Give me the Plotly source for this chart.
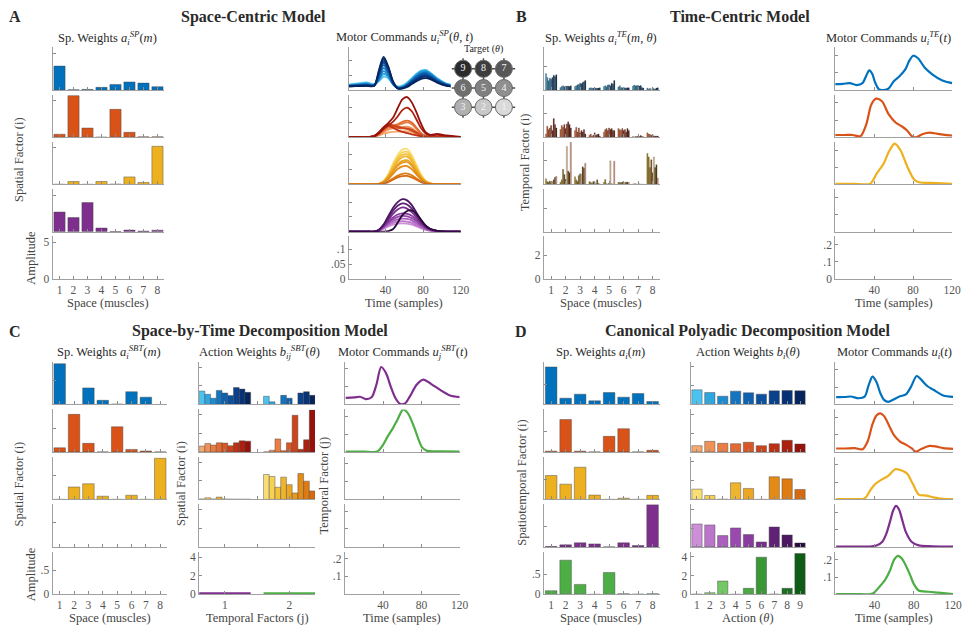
import plotly.graph_objects as go

FONT = "Liberation Serif"
W, H = 970, 632

# ---------------------------------------------------------------- data
MUSCLES = [1, 2, 3, 4, 5, 6, 7, 8]
ACTIONS = [1, 2, 3, 4, 5, 6, 7, 8, 9]
TEMPORAL = [1, 2]

# A: space-centric spatial weights (rows = spatial factors)
SP_WEIGHTS = [
    [3.26, 0.02, 0.08, 0.36, 0.76, 1.10, 0.94, 0.45],
    [0.40, 5.67, 1.25, 0.00, 3.80, 0.67, 0.05, 0.05],
    [0.03, 0.40, 0.02, 0.40, 0.05, 1.03, 0.27, 5.20],
    [2.68, 1.92, 3.97, 0.49, 0.02, 0.22, 0.08, 0.20],
]

# A: target-dependent motor commands, sampled at SP_T
SP_T = [1, 10, 20, 28, 33, 38, 43, 48, 53, 58, 63, 68, 73, 78, 83, 88, 95, 105, 120]
SP_MOTOR_BLUE = [
    [0.018, 0.022, 0.026, 0.020, 0.030, 0.045, 0.040, 0.020, 0.012, 0.015, 0.025, 0.040, 0.055, 0.066, 0.068, 0.058, 0.040, 0.022, 0.014],
    [0.016, 0.019, 0.022, 0.018, 0.032, 0.055, 0.045, 0.020, 0.010, 0.012, 0.022, 0.036, 0.052, 0.063, 0.065, 0.056, 0.038, 0.020, 0.013],
    [0.015, 0.018, 0.020, 0.017, 0.035, 0.064, 0.050, 0.020, 0.008, 0.010, 0.020, 0.034, 0.049, 0.060, 0.062, 0.054, 0.036, 0.019, 0.012],
    [0.014, 0.017, 0.019, 0.016, 0.040, 0.074, 0.056, 0.020, 0.007, 0.009, 0.018, 0.032, 0.046, 0.056, 0.059, 0.051, 0.034, 0.018, 0.012],
    [0.014, 0.016, 0.018, 0.016, 0.045, 0.084, 0.062, 0.022, 0.006, 0.008, 0.016, 0.030, 0.043, 0.053, 0.056, 0.048, 0.032, 0.017, 0.011],
    [0.013, 0.015, 0.017, 0.015, 0.050, 0.092, 0.068, 0.024, 0.005, 0.007, 0.015, 0.028, 0.040, 0.050, 0.052, 0.045, 0.030, 0.016, 0.011],
    [0.013, 0.015, 0.016, 0.015, 0.055, 0.098, 0.072, 0.026, 0.005, 0.006, 0.014, 0.026, 0.037, 0.046, 0.049, 0.043, 0.029, 0.016, 0.010],
    [0.012, 0.014, 0.015, 0.014, 0.060, 0.105, 0.076, 0.028, 0.006, 0.006, 0.012, 0.024, 0.034, 0.043, 0.045, 0.040, 0.027, 0.015, 0.010],
    [0.012, 0.013, 0.014, 0.014, 0.066, 0.112, 0.080, 0.030, 0.007, 0.005, 0.010, 0.020, 0.030, 0.038, 0.040, 0.036, 0.025, 0.014, 0.010],
]
SP_MOTOR_RED = [
    [0, 0, 0, 0.002, 0.006, 0.012, 0.016, 0.018, 0.019, 0.020, 0.020, 0.017, 0.010, 0.004, 0.001, 0, 0, 0, 0],
    [0, 0, 0, 0.002, 0.008, 0.018, 0.026, 0.030, 0.032, 0.034, 0.036, 0.030, 0.018, 0.007, 0.002, 0.001, 0, 0, 0],
    [0, 0, 0, 0.003, 0.010, 0.022, 0.032, 0.036, 0.040, 0.046, 0.050, 0.044, 0.028, 0.012, 0.004, 0.002, 0.001, 0, 0],
    [0, 0, 0, 0.003, 0.012, 0.026, 0.036, 0.040, 0.044, 0.052, 0.056, 0.050, 0.032, 0.014, 0.005, 0.002, 0.001, 0, 0],
    [0, 0, 0, 0.004, 0.015, 0.032, 0.040, 0.036, 0.032, 0.030, 0.030, 0.026, 0.018, 0.008, 0.002, 0, 0, 0, 0],
    [0, 0, 0, 0.004, 0.016, 0.034, 0.044, 0.040, 0.036, 0.032, 0.028, 0.022, 0.014, 0.006, 0.002, 0, 0, 0, 0],
    [0, 0, 0, 0.004, 0.016, 0.032, 0.040, 0.032, 0.024, 0.018, 0.014, 0.010, 0.006, 0.003, 0.001, 0, 0, 0, 0],
    [0, 0, 0, 0.003, 0.012, 0.028, 0.040, 0.052, 0.070, 0.092, 0.100, 0.088, 0.060, 0.030, 0.012, 0.006, 0.008, 0.004, 0],
    [0, 0, 0, 0.004, 0.015, 0.032, 0.048, 0.066, 0.098, 0.128, 0.136, 0.118, 0.084, 0.045, 0.016, 0.008, 0.011, 0.006, 0.001],
]
SP_MOTOR_YELLOW = [
    [0, 0, 0, 0, 0.002, 0.012, 0.035, 0.070, 0.100, 0.118, 0.120, 0.100, 0.065, 0.032, 0.012, 0.004, 0.001, 0, 0],
    [0, 0, 0, 0, 0.002, 0.011, 0.032, 0.064, 0.092, 0.108, 0.110, 0.092, 0.060, 0.030, 0.011, 0.004, 0.001, 0, 0],
    [0, 0, 0, 0, 0.002, 0.010, 0.030, 0.060, 0.086, 0.100, 0.102, 0.086, 0.056, 0.028, 0.010, 0.003, 0.001, 0, 0],
    [0, 0, 0, 0, 0.002, 0.009, 0.027, 0.054, 0.078, 0.092, 0.094, 0.079, 0.051, 0.025, 0.009, 0.003, 0.001, 0, 0],
    [0, 0, 0, 0, 0.002, 0.008, 0.024, 0.048, 0.068, 0.080, 0.082, 0.069, 0.045, 0.022, 0.008, 0.003, 0, 0, 0],
    [0, 0, 0, 0, 0.001, 0.007, 0.022, 0.044, 0.063, 0.074, 0.076, 0.064, 0.041, 0.020, 0.007, 0.002, 0, 0, 0],
    [0, 0, 0, 0, 0.001, 0.006, 0.018, 0.036, 0.052, 0.061, 0.062, 0.052, 0.034, 0.017, 0.006, 0.002, 0, 0, 0],
    [0, 0, 0, 0, 0.001, 0.004, 0.010, 0.020, 0.030, 0.036, 0.037, 0.031, 0.020, 0.010, 0.004, 0.001, 0, 0, 0],
    [0, 0, 0, 0, 0.001, 0.003, 0.008, 0.016, 0.024, 0.028, 0.029, 0.024, 0.016, 0.008, 0.003, 0.001, 0, 0, 0],
]
SP_MOTOR_PURPLE = [
    [0, 0, 0, 0, 0.003, 0.010, 0.018, 0.024, 0.027, 0.028, 0.027, 0.024, 0.018, 0.011, 0.006, 0.003, 0.001, 0, 0],
    [0, 0, 0, 0, 0.004, 0.012, 0.022, 0.030, 0.034, 0.036, 0.034, 0.030, 0.022, 0.014, 0.007, 0.003, 0.001, 0, 0],
    [0, 0, 0, 0, 0.004, 0.014, 0.026, 0.036, 0.042, 0.044, 0.043, 0.038, 0.028, 0.018, 0.009, 0.004, 0.001, 0, 0],
    [0, 0, 0, 0, 0.005, 0.016, 0.030, 0.042, 0.050, 0.053, 0.052, 0.046, 0.035, 0.022, 0.011, 0.005, 0.002, 0, 0],
    [0, 0, 0, 0, 0.005, 0.018, 0.034, 0.048, 0.058, 0.062, 0.060, 0.054, 0.041, 0.026, 0.013, 0.006, 0.002, 0, 0],
    [0, 0, 0, 0, 0.006, 0.020, 0.040, 0.060, 0.075, 0.082, 0.078, 0.066, 0.048, 0.030, 0.015, 0.007, 0.002, 0, 0],
    [0, 0, 0, 0, 0.006, 0.022, 0.046, 0.070, 0.088, 0.096, 0.092, 0.078, 0.056, 0.034, 0.017, 0.008, 0.003, 0, 0],
    [0, 0, 0, 0, 0.006, 0.024, 0.052, 0.080, 0.100, 0.110, 0.106, 0.090, 0.064, 0.038, 0.019, 0.009, 0.003, 0, 0],
    [0, 0, 0, 0, 0, 0, 0.002, 0.008, 0.030, 0.056, 0.070, 0.072, 0.060, 0.040, 0.020, 0.009, 0.003, 0, 0],
]

# B: time-centric spatial weights [factor][muscle][target]
TE_WEIGHTS = [
    [
        [1.39, 1.06, 0.78, 1.00, 0.92, 1.06, 1.25, 1.14, 1.30],
        [0.22, 0.30, 0.36, 0.28, 0.30, 0.33, 0.33, 0.30, 0.36],
        [0.30, 0.36, 0.44, 0.47, 0.58, 0.53, 0.64, 0.70, 0.80],
        [0.17, 0.19, 0.14, 0.17, 0.14, 0.17, 0.14, 0.17, 0.19],
        [0.30, 0.36, 0.28, 0.42, 0.44, 0.36, 0.58, 0.50, 0.80],
        [0.25, 0.36, 0.22, 0.19, 0.17, 0.19, 0.17, 0.19, 0.19],
        [0.33, 0.42, 0.36, 0.36, 0.39, 0.33, 0.39, 0.22, 0.17],
        [0.17, 0.06, 0.14, 0.00, 0.19, 0.11, 0.06, 0.17, 0.19],
    ],
    [
        [0.28, 0.93, 0.65, 0.79, 1.00, 0.56, 1.58, 1.07, 0.79],
        [0.65, 1.00, 0.85, 1.07, 0.73, 1.13, 1.30, 1.07, 0.79],
        [0.56, 0.85, 0.45, 0.79, 0.37, 0.56, 0.45, 0.65, 0.28],
        [0.17, 0.28, 0.08, 0.17, 0.37, 0.17, 0.23, 0.28, 0.08],
        [0.45, 0.65, 0.73, 0.56, 0.79, 0.65, 0.73, 0.56, 0.56],
        [0.73, 0.65, 0.56, 0.73, 0.56, 0.65, 0.45, 0.73, 0.56],
        [0.06, 0.00, 0.06, 0.06, 0.11, 0.06, 0.14, 0.06, 0.03],
        [0.37, 0.28, 0.23, 0.17, 0.23, 0.11, 0.11, 0.08, 0.11],
    ],
    [
        [0.48, 0.24, 0.18, 0.30, 0.15, 0.24, 0.39, 0.60, 0.69],
        [0.18, 0.39, 1.28, 0.84, 0.45, 3.22, 1.13, 1.00, 3.73],
        [0.66, 0.39, 0.24, 0.75, 0.90, 0.84, 1.49, 1.37, 1.79],
        [0.24, 0.18, 0.09, 0.24, 0.18, 0.06, 0.39, 0.09, 0.03],
        [0.18, 0.42, 0.06, 0.03, 0.12, 2.00, 0.06, 0.03, 1.97],
        [0.18, 0.18, 0.15, 0.21, 0.18, 0.15, 0.21, 0.18, 0.18],
        [0.03, 0.06, 0.06, 0.03, 0.03, 0.06, 0.03, 0.00, 0.03],
        [2.63, 2.33, 1.43, 2.09, 0.99, 2.33, 1.43, 1.67, 0.54],
    ],
]

# B: time-centric motor commands
TE_T_BLUE = [0, 8, 15, 22, 28, 32, 35, 38, 41, 45, 50, 55, 60, 66, 72, 76, 80, 85, 92, 100, 110, 120]
TE_BLUE = [0.034, 0.036, 0.040, 0.029, 0.040, 0.085, 0.114, 0.095, 0.044, 0.003, 0.0, 0.010, 0.050, 0.080, 0.120, 0.170, 0.200, 0.185, 0.130, 0.090, 0.055, 0.040]
TE_T_RED = [0, 10, 18, 26, 32, 37, 42, 48, 55, 62, 69, 74, 79, 83, 90, 97, 105, 120]
TE_RED = [0.013, 0.013, 0.013, 0.006, 0.076, 0.190, 0.225, 0.210, 0.133, 0.086, 0.061, 0.038, 0.004, 0.0, 0.019, 0.027, 0.020, 0.010]
TE_T_YELLOW = [0, 20, 36, 43, 50, 55, 61, 67, 74, 81, 86, 98, 110, 120]
TE_YELLOW = [0.004, 0.004, 0.004, 0.067, 0.124, 0.190, 0.238, 0.200, 0.105, 0.029, 0.013, 0.009, 0.006, 0.004]

# C: space-by-time decomposition
SBT_SPATIAL = [
    [0.853, 0.0, 0.347, 0.087, 0.010, 0.267, 0.153, 0.0],
    [0.087, 0.787, 0.180, 0.0, 0.527, 0.053, 0.020, 0.0],
    [0.0, 0.260, 0.327, 0.067, 0.0, 0.087, 0.0, 0.860],
]
SBT_ACTION = [  # [spatial factor][temporal factor][target]
    [[1.44, 1.09, 0.67, 1.51, 1.23, 0.95, 1.82, 1.65, 1.30],
     [0.88, 0.28, 0.00, 0.98, 0.67, 0.00, 1.23, 1.37, 0.98]],
    [[0.63, 0.91, 0.74, 0.98, 0.95, 0.67, 0.98, 1.19, 1.16],
     [0.00, 0.18, 1.40, 0.14, 0.98, 3.93, 0.28, 1.30, 4.49]],
    [[0.05, 0.18, 0.05, 0.25, 0.05, 0.03, 0.02, 0.02, 0.02],
     [2.67, 2.46, 1.30, 2.39, 1.58, 0.70, 2.77, 1.96, 0.91]],
]
SBT_T_PURPLE = [1, 10, 16, 22, 28, 33, 38, 43, 48, 53, 58, 63, 68, 75, 82, 90, 100, 110, 120]
SBT_PURPLE = [0.037, 0.040, 0.043, 0.030, 0.040, 0.110, 0.209, 0.175, 0.100, 0.035, 0.003, 0.006, 0.045, 0.110, 0.139, 0.115, 0.080, 0.050, 0.041]
SBT_T_GREEN = [1, 20, 34, 40, 45, 50, 55, 61, 66, 72, 77, 81, 86, 100, 120]
SBT_GREEN = [0.002, 0.002, 0.002, 0.040, 0.088, 0.130, 0.180, 0.237, 0.215, 0.144, 0.070, 0.024, 0.006, 0.004, 0.002]

# D: canonical polyadic decomposition
CP_SPATIAL = [
    [0.926, 0.156, 0.254, 0.090, 0.295, 0.180, 0.270, 0.074],
    [0.020, 0.800, 0.020, 0.0, 0.385, 0.574, 0.0, 0.040],
    [0.590, 0.377, 0.795, 0.107, 0.0, 0.030, 0.0, 0.100],
    [0.010, 0.050, 0.100, 0.074, 0.0, 0.100, 0.033, 1.040],
    [0.090, 0.844, 0.246, 0.0, 0.540, 0.016, 0.005, 0.016],
]
CP_ACTION = [
    [1.56, 1.27, 0.88, 1.42, 1.24, 1.10, 1.45, 1.49, 1.45],
    [0.67, 1.13, 0.92, 0.88, 1.03, 0.67, 0.88, 1.24, 0.85],
    [1.10, 0.42, 0.02, 1.77, 1.17, 0.0, 2.41, 2.19, 1.06],
    [2.44, 2.34, 1.20, 2.02, 1.31, 0.53, 2.12, 1.27, 0.42],
    [0.02, 0.18, 1.42, 0.0, 0.64, 3.96, 0.02, 0.64, 4.35],
]
CP_T = [
    [1, 10, 16, 24, 30, 34, 38, 42, 46, 50, 54, 60, 66, 72, 77, 83, 88, 94, 100, 110, 120],
    [1, 10, 20, 28, 33, 38, 42, 46, 50, 55, 60, 66, 72, 78, 82, 88, 95, 102, 110, 120],
    [1, 10, 20, 28, 31, 36, 40, 46, 54, 61, 67, 73, 79, 85, 93, 100, 110, 120],
    [1, 20, 35, 42, 48, 52, 56, 59, 62, 65, 68, 72, 78, 85, 95, 110, 120],
    [1, 20, 36, 40, 46, 51, 56, 60, 64, 68, 72, 76, 80, 85, 95, 105, 120],
]
CP_MOTOR = [
    [0.042, 0.043, 0.046, 0.036, 0.045, 0.110, 0.160, 0.130, 0.065, 0.025, 0.015, 0.030, 0.047, 0.058, 0.100, 0.164, 0.140, 0.105, 0.085, 0.052, 0.044],
    [0.020, 0.020, 0.022, 0.016, 0.060, 0.160, 0.210, 0.222, 0.205, 0.150, 0.095, 0.060, 0.042, 0.020, 0.002, 0.018, 0.034, 0.032, 0.022, 0.018],
    [0.002, 0.002, 0.002, 0.002, 0.010, 0.055, 0.085, 0.110, 0.136, 0.174, 0.168, 0.150, 0.090, 0.028, 0.022, 0.012, 0.003, 0.002],
    [0.001, 0.001, 0.002, 0.008, 0.030, 0.075, 0.150, 0.210, 0.236, 0.215, 0.160, 0.085, 0.028, 0.009, 0.004, 0.002, 0.001],
    [0.002, 0.002, 0.002, 0.012, 0.050, 0.085, 0.140, 0.200, 0.222, 0.205, 0.165, 0.115, 0.060, 0.022, 0.015, 0.010, 0.002],
]

# target layout of the centre-out task (grid column / row of each target)
TARGET_IDS = [9, 8, 7, 6, 5, 4, 3, 2, 1]
TARGET_COL = [1, 2, 3, 1, 2, 3, 1, 2, 3]
TARGET_ROW = [3, 3, 3, 2, 2, 2, 1, 1, 1]

# ---------------------------------------------------------------- colours
BLUE, ORANGE, YELLOW, PURPLE, GREEN = "#0072BD", "#D95319", "#EDB120", "#7E2F8E", "#4CAE45"
ROW_COLORS = [BLUE, ORANGE, YELLOW, PURPLE, GREEN]
SHADES = [  # target 1 (light) ... target 9 (dark)
    ["#4cc3ef", "#2fa6e0", "#1d8bd0", "#1474c0", "#0e62b0", "#0b519f", "#0a418c", "#083276", "#06245e"],
    ["#f5a870", "#f09257", "#ea7d42", "#e36a31", "#d95626", "#cc441c", "#bd3215", "#ab200f", "#98100a"],
    ["#f8de74", "#f6d156", "#f2c33f", "#efb42d", "#eba624", "#e8981c", "#e48a16", "#de7b12", "#d66a10"],
    ["#cc8fd8", "#bb76cb", "#aa5fbd", "#9a4aae", "#8a3b9e", "#782f8c", "#5f2277", "#4a1760", "#2c0a3e"],
    ["#a8df90", "#8fd47a", "#74c765", "#5db852", "#4aa843", "#3a9736", "#2a852b", "#1c7120", "#0f5c15"],
]
TE_SHADES = [
    ["#3a8fb8", "#2f7fa8", "#27709a", "#20628c", "#1a557e", "#154870", "#103c62", "#0c3054", "#082446"],
    ["#c4602e", "#b45228", "#a44522", "#94391c", "#852f17", "#762612", "#681e0e", "#5a160a", "#4c1007"],
    ["#a08020", "#907018", "#806014", "#705010", "#806018", "#d8b48a", "#60420c", "#54380a", "#c98f78"],
]
TARGET_GREYS = ["#dadada", "#c8c8c8", "#b0b0b0", "#8f8f8f", "#808080", "#6e6e6e", "#575757", "#3d3d3d", "#2b2b2b"]
EDGE = "rgba(70,70,70,0.55)"
TXT = "#2a2a2a"
LAB = "#444444"
TICK = "#555555"
TICK_FONT = dict(family=FONT, size=11.5, color=TICK)

# ---------------------------------------------------------------- axes helpers
AXIS_STYLE = dict(
    showline=True, linecolor="#a0a0a0", linewidth=1, ticks="inside", ticklen=3,
    tickcolor="#8c8c8c", showgrid=False, zeroline=False, fixedrange=True,
    tickfont=TICK_FONT,
)
layout_axes = {}
ann = []
counter = [0]
fig = go.Figure()


def new_axes(x0, x1, top, xr, yr, xtv=None, xtt=None, ytv=None, ytt=None,
             xlab=False, ylab=False, height=43):
    counter[0] += 1
    n = counter[0]
    s = "" if n == 1 else str(n)
    layout_axes["xaxis" + s] = dict(
        AXIS_STYLE, domain=[x0 / W, x1 / W], range=xr, anchor="y" + s,
        tickvals=xtv, ticktext=xtt, showticklabels=xlab, ticklabeloverflow="allow")
    layout_axes["yaxis" + s] = dict(
        AXIS_STYLE, domain=[1 - (top + height) / H, 1 - top / H], range=yr, anchor="x" + s,
        tickvals=ytv, ticktext=ytt, showticklabels=ylab, ticklabeloverflow="allow")
    # an empty trace so that panels without data still get their axes drawn
    fig.add_trace(go.Scatter(x=[None], y=[None], xaxis="x" + s, yaxis="y" + s,
                             mode="lines", hoverinfo="skip"))
    return "x" + s, "y" + s


TOP_ROWS = [47, 94.75, 142.5, 190.25, 238]
BOT_ROWS = [365, 413, 461, 509, 557]


def bar(ax, x, y, color, width=None, line_w=0.8):
    fig.add_trace(go.Bar(x=x, y=y, xaxis=ax[0], yaxis=ax[1], marker_color=color,
                         marker_line=dict(color=EDGE, width=line_w), width=width))


def line(ax, x, y, color, w=2.0):
    fig.add_trace(go.Scatter(x=x, y=y, xaxis=ax[0], yaxis=ax[1], mode="lines",
                             line=dict(color=color, width=w, shape="spline", smoothing=0.8),
                             cliponaxis=False))


T_RANGE = [1, 120]
T_TICKS = [40, 80, 120]

# ---- A: space-centric model
sp_motor = [SP_MOTOR_BLUE, SP_MOTOR_RED, SP_MOTOR_YELLOW, SP_MOTOR_PURPLE]
for r in range(5):
    last = r == 4
    ax = new_axes(53, 166, TOP_ROWS[r], [0.5, 8.5], [0, 5.8], xtv=MUSCLES,
                  ytv=[0, 5], xlab=last, ylab=last)
    if r < 4:
        bar(ax, MUSCLES, SP_WEIGHTS[r], ROW_COLORS[r])
    ax = new_axes(352, 465, TOP_ROWS[r], T_RANGE, [0, 0.144], xtv=T_TICKS,
                  ytv=[0, 0.05, 0.1], ytt=["0", ".05", ".1"], xlab=last, ylab=last)
    if r < 4:
        for k in range(9):
            line(ax, SP_T, sp_motor[r][k], SHADES[r][k], w=1.8)

# ---- B: time-centric model
te_motor = [(TE_T_BLUE, TE_BLUE), (TE_T_RED, TE_RED), (TE_T_YELLOW, TE_YELLOW)]
for r in range(5):
    last = r == 4
    ax = new_axes(549, 666, TOP_ROWS[r], [0.5, 8.5], [0, 3.6], xtv=MUSCLES,
                  ytv=[0, 2], xlab=last, ylab=last)
    if r < 3:
        for k in range(9):
            bar(ax, MUSCLES, [TE_WEIGHTS[r][m][k] for m in range(8)], TE_SHADES[r][k],
                line_w=0.4)
    ax = new_axes(843, 961, TOP_ROWS[r], [0, 120], [0, 0.248], xtv=T_TICKS,
                  ytv=[0, 0.1, 0.2], ytt=["0", ".1", ".2"], xlab=last, ylab=last)
    if r < 3:
        line(ax, te_motor[r][0], te_motor[r][1], ROW_COLORS[r], w=2.2)

# ---- C: space-by-time decomposition
sbt_motor = [(SBT_T_PURPLE, SBT_PURPLE, PURPLE), (SBT_T_GREEN, SBT_GREEN, GREEN)]
for r in range(5):
    last = r == 4
    ax = new_axes(53, 169, BOT_ROWS[r], [0.5, 8.5], [0, 0.89], xtv=MUSCLES,
                  ytv=[0, 0.5], ytt=["0", ".5"], xlab=last, ylab=last)
    if r < 3:
        bar(ax, MUSCLES, SBT_SPATIAL[r], ROW_COLORS[r])
    ax = new_axes(201, 318, BOT_ROWS[r], [0.6, 2.4], [0, 4.56], xtv=[1, 1.5, 2] if not last else TEMPORAL,
                  ytv=[0, 2, 4], xlab=last, ylab=last)
    if r < 3:
        for k in range(9):
            bar(ax, TEMPORAL, [SBT_ACTION[r][j][k] for j in range(2)], SHADES[r][k])
    if last:
        for j, c in zip(TEMPORAL, [PURPLE, GREEN]):
            fig.add_trace(go.Scatter(x=[j - 0.4, j + 0.4], y=[0, 0], xaxis=ax[0], yaxis=ax[1],
                                     mode="lines", line=dict(color=c, width=4), cliponaxis=False))
    ax = new_axes(348, 464, BOT_ROWS[r], [0, 120], [0, 0.237], xtv=T_TICKS,
                  ytv=[0.1, 0.2], ytt=[".1", ".2"], xlab=last, ylab=last)
    if r < 2:
        line(ax, sbt_motor[r][0], sbt_motor[r][1], sbt_motor[r][2], w=2.2)

# ---- D: canonical polyadic decomposition
for r in range(5):
    last = r == 4
    ax = new_axes(549, 666, BOT_ROWS[r], [0.5, 8.5], [0, 1.05], xtv=MUSCLES,
                  ytv=[0, 0.5], ytt=["0", ".5"], xlab=last, ylab=last)
    bar(ax, MUSCLES, CP_SPATIAL[r], ROW_COLORS[r])
    ax = new_axes(697, 814, BOT_ROWS[r], [0.5, 9.5], [0, 4.53], xtv=ACTIONS,
                  ytv=[0, 2, 4], xlab=last, ylab=last)
    bar(ax, ACTIONS, CP_ACTION[r], SHADES[r])
    ax = new_axes(843, 962, BOT_ROWS[r], [0, 120], [0, 0.245], xtv=T_TICKS,
                  ytv=[0.1, 0.2], ytt=[".1", ".2"], xlab=last, ylab=last)
    line(ax, CP_T[r], CP_MOTOR[r], ROW_COLORS[r], w=2.2)

# ---- target inset (A)
counter[0] += 1
n = counter[0]
layout_axes["xaxis%d" % n] = dict(domain=[455 / W, 521 / W], range=[0.4, 3.6], visible=False,
                                  anchor="y%d" % n, fixedrange=True)
layout_axes["yaxis%d" % n] = dict(domain=[1 - 119 / H, 1 - 57 / H], range=[0.4, 3.6], visible=False,
                                  anchor="x%d" % n, fixedrange=True)
shapes = []
for v in [1, 2, 3]:
    shapes.append(dict(type="line", xref="x%d" % n, yref="y%d" % n, x0=0.45, x1=3.55, y0=v, y1=v,
                       line=dict(color="#4a4a4a", width=1.5), layer="below"))
    shapes.append(dict(type="line", xref="x%d" % n, yref="y%d" % n, y0=0.45, y1=3.55, x0=v, x1=v,
                       line=dict(color="#4a4a4a", width=1.5), layer="below"))
fig.add_trace(go.Scatter(
    x=TARGET_COL, y=TARGET_ROW, xaxis="x%d" % n, yaxis="y%d" % n, mode="markers+text",
    text=[str(t) for t in TARGET_IDS], textposition="middle center",
    textfont=dict(family=FONT, size=10, color="#f4f4f4"),
    marker=dict(size=17, color=[TARGET_GREYS[t - 1] for t in TARGET_IDS],
                line=dict(color="#6a6a6a", width=1)),
    cliponaxis=False))

# ---------------------------------------------------------------- text


def text(s, x, y, size=12.5, color=LAB, angle=0, bold=False):
    if bold:
        s = "<b>%s</b>" % s
    ann.append(dict(text=s, x=x / W, y=1 - y / H, xref="paper", yref="paper",
                    showarrow=False, textangle=angle, xanchor="center", yanchor="middle",
                    font=dict(family=FONT, size=size, color=color)))


for letter, x, y in [("A", 15, 16), ("B", 526, 16), ("C", 15, 334), ("D", 526, 334)]:
    text(letter, x, y, size=16, color=TXT, bold=True)
text("Space-Centric Model", 256, 16, size=16, color=TXT, bold=True)
text("Time-Centric Model", 747, 16, size=16, color=TXT, bold=True)
text("Space-by-Time Decomposition Model", 262, 334, size=16, color=TXT, bold=True)
text("Canonical Polyadic Decomposition Model", 755, 334, size=16, color=TXT, bold=True)

text("Sp. Weights <i>a</i><sub><i>i</i></sub><sup><i>SP</i></sup>(<i>m</i>)", 109, 37, color=TXT)
text("Motor Commands <i>u</i><sub><i>i</i></sub><sup><i>SP</i></sup>(<i>θ</i>, <i>t</i>)", 408, 36, color=TXT)
text("Sp. Weights <i>a</i><sub><i>i</i></sub><sup><i>TE</i></sup>(<i>m</i>, <i>θ</i>)", 607, 37, color=TXT)
text("Motor Commands <i>u</i><sub><i>i</i></sub><sup><i>TE</i></sup>(<i>t</i>)", 897, 37, color=TXT)
text("Sp. Weights <i>a</i><sub><i>i</i></sub><sup><i>SBT</i></sup>(<i>m</i>)", 110, 355, color=TXT)
text("Action Weights <i>b</i><sub><i>ij</i></sub><sup><i>SBT</i></sup>(<i>θ</i>)", 262, 355, color=TXT)
text("Motor Commands <i>u</i><sub><i>j</i></sub><sup><i>SBT</i></sup>(<i>t</i>)", 407, 355, color=TXT)
text("Sp. Weights <i>a</i><sub><i>i</i></sub>(<i>m</i>)", 606, 356, color=TXT)
text("Action Weights <i>b</i><sub><i>i</i></sub>(<i>θ</i>)", 755, 356, color=TXT)
text("Motor Commands <i>u</i><sub><i>i</i></sub>(<i>t</i>)", 903, 356, color=TXT)
text("Target (<i>θ</i>)", 488, 49, size=10, color=TXT)

for s, x, y in [("Space (muscles)", 109, 305), ("Time (samples)", 408, 305),
                ("Space (muscles)", 607, 305), ("Time (samples)", 902, 305),
                ("Space (muscles)", 111, 624), ("Temporal Factors (j)", 260, 624),
                ("Time (samples)", 406, 624), ("Space (muscles)", 607, 624),
                ("Action (<i>θ</i>)", 755, 624), ("Time (samples)", 902, 624)]:
    text(s, x, y)

for s, x, y in [("Spatial Factor (i)", 19, 160), ("Amplitude", 31, 260),
                ("Temporal Factor (i)", 530, 163),
                ("Spatial Factor (i)", 19, 488), ("Amplitude", 31, 580),
                ("Spatial Factor (i)", 182, 488), ("Temporal Factor (j)", 327, 490),
                ("Spatiotemporal Factor (i)", 526, 487)]:
    text(s, x, y, angle=-90)

fig.update_layout(
    width=W, height=H, margin=dict(l=0, r=0, t=0, b=0),
    paper_bgcolor="white", plot_bgcolor="white", showlegend=False,
    barmode="group", bargap=0.2, bargroupgap=0.0,
    annotations=ann, shapes=shapes, **layout_axes,
)
fig.write_html("out.html")
